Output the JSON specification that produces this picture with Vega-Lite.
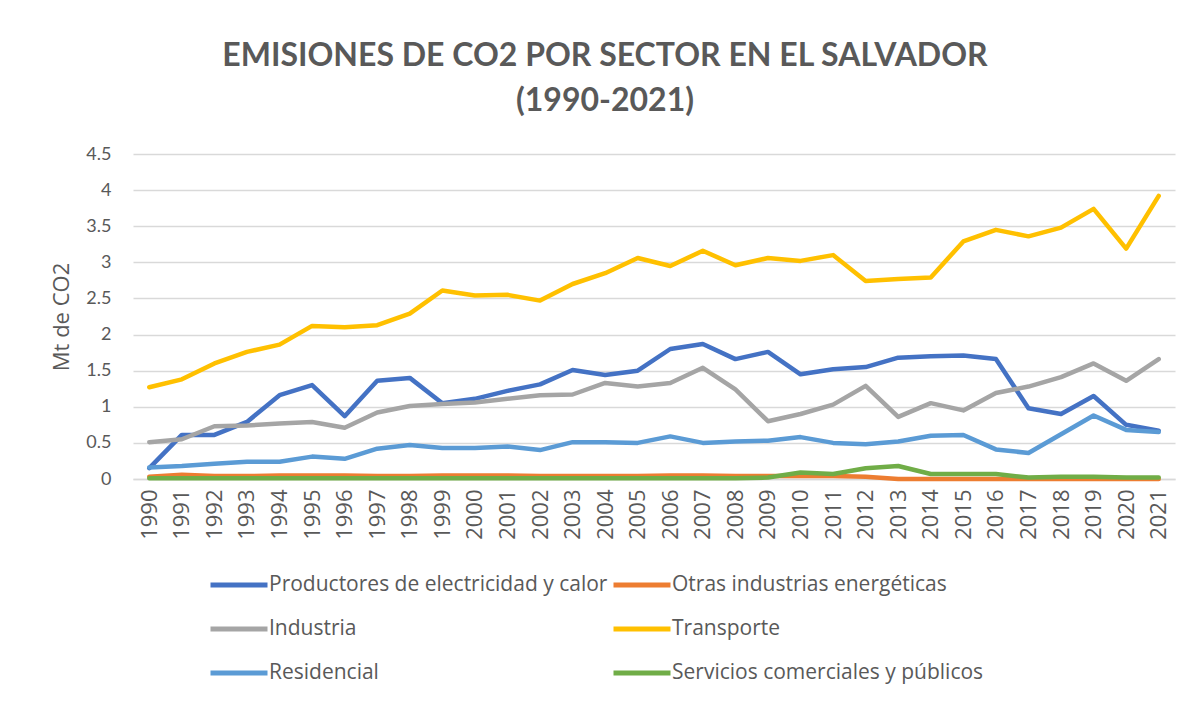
{
  "$schema": "https://vega.github.io/schema/vega-lite/v6.json",
  "width": 1042,
  "height": 325,
  "autosize": {"type": "none"},
  "padding": {"left": 133, "top": 154, "right": 16, "bottom": 223},
  "background": "white",
  "title": {
    "text": ["EMISIONES DE CO2 POR SECTOR EN EL SALVADOR", "(1990-2021)"],
    "font": "Lato",
    "fontSize": 32,
    "fontWeight": "bold",
    "color": "#595959",
    "lineHeight": 45,
    "anchor": "middle",
    "dx": -49,
    "offset": 27
  },
  "datasets": {
    "emis": [
      {"year":"1990","sector":"Productores de electricidad y calor","value":0.15},
      {"year":"1991","sector":"Productores de electricidad y calor","value":0.61},
      {"year":"1992","sector":"Productores de electricidad y calor","value":0.61},
      {"year":"1993","sector":"Productores de electricidad y calor","value":0.79},
      {"year":"1994","sector":"Productores de electricidad y calor","value":1.16},
      {"year":"1995","sector":"Productores de electricidad y calor","value":1.30},
      {"year":"1996","sector":"Productores de electricidad y calor","value":0.87},
      {"year":"1997","sector":"Productores de electricidad y calor","value":1.36},
      {"year":"1998","sector":"Productores de electricidad y calor","value":1.40},
      {"year":"1999","sector":"Productores de electricidad y calor","value":1.05},
      {"year":"2000","sector":"Productores de electricidad y calor","value":1.11},
      {"year":"2001","sector":"Productores de electricidad y calor","value":1.22},
      {"year":"2002","sector":"Productores de electricidad y calor","value":1.31},
      {"year":"2003","sector":"Productores de electricidad y calor","value":1.51},
      {"year":"2004","sector":"Productores de electricidad y calor","value":1.44},
      {"year":"2005","sector":"Productores de electricidad y calor","value":1.50},
      {"year":"2006","sector":"Productores de electricidad y calor","value":1.80},
      {"year":"2007","sector":"Productores de electricidad y calor","value":1.87},
      {"year":"2008","sector":"Productores de electricidad y calor","value":1.66},
      {"year":"2009","sector":"Productores de electricidad y calor","value":1.76},
      {"year":"2010","sector":"Productores de electricidad y calor","value":1.45},
      {"year":"2011","sector":"Productores de electricidad y calor","value":1.52},
      {"year":"2012","sector":"Productores de electricidad y calor","value":1.55},
      {"year":"2013","sector":"Productores de electricidad y calor","value":1.68},
      {"year":"2014","sector":"Productores de electricidad y calor","value":1.70},
      {"year":"2015","sector":"Productores de electricidad y calor","value":1.71},
      {"year":"2016","sector":"Productores de electricidad y calor","value":1.66},
      {"year":"2017","sector":"Productores de electricidad y calor","value":0.98},
      {"year":"2018","sector":"Productores de electricidad y calor","value":0.90},
      {"year":"2019","sector":"Productores de electricidad y calor","value":1.15},
      {"year":"2020","sector":"Productores de electricidad y calor","value":0.75},
      {"year":"2021","sector":"Productores de electricidad y calor","value":0.67},

      {"year":"1990","sector":"Otras industrias energéticas","value":0.03},
      {"year":"1991","sector":"Otras industrias energéticas","value":0.06},
      {"year":"1992","sector":"Otras industrias energéticas","value":0.04},
      {"year":"1993","sector":"Otras industrias energéticas","value":0.04},
      {"year":"1994","sector":"Otras industrias energéticas","value":0.05},
      {"year":"1995","sector":"Otras industrias energéticas","value":0.05},
      {"year":"1996","sector":"Otras industrias energéticas","value":0.05},
      {"year":"1997","sector":"Otras industrias energéticas","value":0.04},
      {"year":"1998","sector":"Otras industrias energéticas","value":0.04},
      {"year":"1999","sector":"Otras industrias energéticas","value":0.05},
      {"year":"2000","sector":"Otras industrias energéticas","value":0.05},
      {"year":"2001","sector":"Otras industrias energéticas","value":0.05},
      {"year":"2002","sector":"Otras industrias energéticas","value":0.04},
      {"year":"2003","sector":"Otras industrias energéticas","value":0.04},
      {"year":"2004","sector":"Otras industrias energéticas","value":0.04},
      {"year":"2005","sector":"Otras industrias energéticas","value":0.04},
      {"year":"2006","sector":"Otras industrias energéticas","value":0.05},
      {"year":"2007","sector":"Otras industrias energéticas","value":0.05},
      {"year":"2008","sector":"Otras industrias energéticas","value":0.04},
      {"year":"2009","sector":"Otras industrias energéticas","value":0.04},
      {"year":"2010","sector":"Otras industrias energéticas","value":0.04},
      {"year":"2011","sector":"Otras industrias energéticas","value":0.04},
      {"year":"2012","sector":"Otras industrias energéticas","value":0.03},
      {"year":"2013","sector":"Otras industrias energéticas","value":0.0},
      {"year":"2014","sector":"Otras industrias energéticas","value":0.0},
      {"year":"2015","sector":"Otras industrias energéticas","value":0.0},
      {"year":"2016","sector":"Otras industrias energéticas","value":0.0},
      {"year":"2017","sector":"Otras industrias energéticas","value":0.0},
      {"year":"2018","sector":"Otras industrias energéticas","value":0.0},
      {"year":"2019","sector":"Otras industrias energéticas","value":0.0},
      {"year":"2020","sector":"Otras industrias energéticas","value":0.0},
      {"year":"2021","sector":"Otras industrias energéticas","value":0.0},

      {"year":"1990","sector":"Industria","value":0.51},
      {"year":"1991","sector":"Industria","value":0.55},
      {"year":"1992","sector":"Industria","value":0.73},
      {"year":"1993","sector":"Industria","value":0.74},
      {"year":"1994","sector":"Industria","value":0.77},
      {"year":"1995","sector":"Industria","value":0.79},
      {"year":"1996","sector":"Industria","value":0.71},
      {"year":"1997","sector":"Industria","value":0.92},
      {"year":"1998","sector":"Industria","value":1.01},
      {"year":"1999","sector":"Industria","value":1.04},
      {"year":"2000","sector":"Industria","value":1.06},
      {"year":"2001","sector":"Industria","value":1.11},
      {"year":"2002","sector":"Industria","value":1.16},
      {"year":"2003","sector":"Industria","value":1.17},
      {"year":"2004","sector":"Industria","value":1.33},
      {"year":"2005","sector":"Industria","value":1.28},
      {"year":"2006","sector":"Industria","value":1.33},
      {"year":"2007","sector":"Industria","value":1.54},
      {"year":"2008","sector":"Industria","value":1.24},
      {"year":"2009","sector":"Industria","value":0.80},
      {"year":"2010","sector":"Industria","value":0.90},
      {"year":"2011","sector":"Industria","value":1.03},
      {"year":"2012","sector":"Industria","value":1.29},
      {"year":"2013","sector":"Industria","value":0.86},
      {"year":"2014","sector":"Industria","value":1.05},
      {"year":"2015","sector":"Industria","value":0.95},
      {"year":"2016","sector":"Industria","value":1.19},
      {"year":"2017","sector":"Industria","value":1.28},
      {"year":"2018","sector":"Industria","value":1.41},
      {"year":"2019","sector":"Industria","value":1.60},
      {"year":"2020","sector":"Industria","value":1.36},
      {"year":"2021","sector":"Industria","value":1.66},

      {"year":"1990","sector":"Transporte","value":1.27},
      {"year":"1991","sector":"Transporte","value":1.38},
      {"year":"1992","sector":"Transporte","value":1.60},
      {"year":"1993","sector":"Transporte","value":1.76},
      {"year":"1994","sector":"Transporte","value":1.86},
      {"year":"1995","sector":"Transporte","value":2.12},
      {"year":"1996","sector":"Transporte","value":2.10},
      {"year":"1997","sector":"Transporte","value":2.13},
      {"year":"1998","sector":"Transporte","value":2.29},
      {"year":"1999","sector":"Transporte","value":2.61},
      {"year":"2000","sector":"Transporte","value":2.54},
      {"year":"2001","sector":"Transporte","value":2.55},
      {"year":"2002","sector":"Transporte","value":2.47},
      {"year":"2003","sector":"Transporte","value":2.70},
      {"year":"2004","sector":"Transporte","value":2.85},
      {"year":"2005","sector":"Transporte","value":3.06},
      {"year":"2006","sector":"Transporte","value":2.95},
      {"year":"2007","sector":"Transporte","value":3.16},
      {"year":"2008","sector":"Transporte","value":2.96},
      {"year":"2009","sector":"Transporte","value":3.06},
      {"year":"2010","sector":"Transporte","value":3.02},
      {"year":"2011","sector":"Transporte","value":3.10},
      {"year":"2012","sector":"Transporte","value":2.74},
      {"year":"2013","sector":"Transporte","value":2.77},
      {"year":"2014","sector":"Transporte","value":2.79},
      {"year":"2015","sector":"Transporte","value":3.29},
      {"year":"2016","sector":"Transporte","value":3.45},
      {"year":"2017","sector":"Transporte","value":3.36},
      {"year":"2018","sector":"Transporte","value":3.48},
      {"year":"2019","sector":"Transporte","value":3.74},
      {"year":"2020","sector":"Transporte","value":3.19},
      {"year":"2021","sector":"Transporte","value":3.92},

      {"year":"1990","sector":"Residencial","value":0.16},
      {"year":"1991","sector":"Residencial","value":0.18},
      {"year":"1992","sector":"Residencial","value":0.21},
      {"year":"1993","sector":"Residencial","value":0.24},
      {"year":"1994","sector":"Residencial","value":0.24},
      {"year":"1995","sector":"Residencial","value":0.31},
      {"year":"1996","sector":"Residencial","value":0.28},
      {"year":"1997","sector":"Residencial","value":0.42},
      {"year":"1998","sector":"Residencial","value":0.47},
      {"year":"1999","sector":"Residencial","value":0.43},
      {"year":"2000","sector":"Residencial","value":0.43},
      {"year":"2001","sector":"Residencial","value":0.45},
      {"year":"2002","sector":"Residencial","value":0.40},
      {"year":"2003","sector":"Residencial","value":0.51},
      {"year":"2004","sector":"Residencial","value":0.51},
      {"year":"2005","sector":"Residencial","value":0.50},
      {"year":"2006","sector":"Residencial","value":0.59},
      {"year":"2007","sector":"Residencial","value":0.50},
      {"year":"2008","sector":"Residencial","value":0.52},
      {"year":"2009","sector":"Residencial","value":0.53},
      {"year":"2010","sector":"Residencial","value":0.58},
      {"year":"2011","sector":"Residencial","value":0.50},
      {"year":"2012","sector":"Residencial","value":0.48},
      {"year":"2013","sector":"Residencial","value":0.52},
      {"year":"2014","sector":"Residencial","value":0.60},
      {"year":"2015","sector":"Residencial","value":0.61},
      {"year":"2016","sector":"Residencial","value":0.41},
      {"year":"2017","sector":"Residencial","value":0.36},
      {"year":"2018","sector":"Residencial","value":0.62},
      {"year":"2019","sector":"Residencial","value":0.88},
      {"year":"2020","sector":"Residencial","value":0.68},
      {"year":"2021","sector":"Residencial","value":0.65},

      {"year":"1990","sector":"Servicios comerciales y públicos","value":0.01},
      {"year":"1991","sector":"Servicios comerciales y públicos","value":0.01},
      {"year":"1992","sector":"Servicios comerciales y públicos","value":0.01},
      {"year":"1993","sector":"Servicios comerciales y públicos","value":0.01},
      {"year":"1994","sector":"Servicios comerciales y públicos","value":0.01},
      {"year":"1995","sector":"Servicios comerciales y públicos","value":0.01},
      {"year":"1996","sector":"Servicios comerciales y públicos","value":0.01},
      {"year":"1997","sector":"Servicios comerciales y públicos","value":0.01},
      {"year":"1998","sector":"Servicios comerciales y públicos","value":0.01},
      {"year":"1999","sector":"Servicios comerciales y públicos","value":0.01},
      {"year":"2000","sector":"Servicios comerciales y públicos","value":0.01},
      {"year":"2001","sector":"Servicios comerciales y públicos","value":0.01},
      {"year":"2002","sector":"Servicios comerciales y públicos","value":0.01},
      {"year":"2003","sector":"Servicios comerciales y públicos","value":0.01},
      {"year":"2004","sector":"Servicios comerciales y públicos","value":0.01},
      {"year":"2005","sector":"Servicios comerciales y públicos","value":0.01},
      {"year":"2006","sector":"Servicios comerciales y públicos","value":0.01},
      {"year":"2007","sector":"Servicios comerciales y públicos","value":0.01},
      {"year":"2008","sector":"Servicios comerciales y públicos","value":0.01},
      {"year":"2009","sector":"Servicios comerciales y públicos","value":0.02},
      {"year":"2010","sector":"Servicios comerciales y públicos","value":0.09},
      {"year":"2011","sector":"Servicios comerciales y públicos","value":0.07},
      {"year":"2012","sector":"Servicios comerciales y públicos","value":0.15},
      {"year":"2013","sector":"Servicios comerciales y públicos","value":0.18},
      {"year":"2014","sector":"Servicios comerciales y públicos","value":0.07},
      {"year":"2015","sector":"Servicios comerciales y públicos","value":0.07},
      {"year":"2016","sector":"Servicios comerciales y públicos","value":0.07},
      {"year":"2017","sector":"Servicios comerciales y públicos","value":0.02},
      {"year":"2018","sector":"Servicios comerciales y públicos","value":0.03},
      {"year":"2019","sector":"Servicios comerciales y públicos","value":0.03},
      {"year":"2020","sector":"Servicios comerciales y públicos","value":0.02},
      {"year":"2021","sector":"Servicios comerciales y públicos","value":0.02}
    ]
  },
  "data": {"name": "emis"},
  "mark": {"type": "line", "strokeWidth": 4.5, "strokeJoin": "round", "strokeCap": "round"},
  "encoding": {
    "x": {
      "field": "year",
      "type": "ordinal",
      "scale": {"type": "point", "padding": 0.5},
      "axis": {
        "title": null,
        "labelAngle": -90,
        "labelFont": "Open Sans",
        "labelFontSize": 22,
        "labelColor": "#595959",
        "labelPadding": 10,
        "ticks": false,
        "domainColor": "#d9d9d9",
        "domainWidth": 1.5,
        "grid": false
      }
    },
    "y": {
      "field": "value",
      "type": "quantitative",
      "scale": {"domain": [0, 4.5], "nice": false},
      "axis": {
        "title": "Mt de CO2",
        "titleFont": "Open Sans",
        "titleFontSize": 22,
        "titleFontWeight": "normal",
        "titleColor": "#595959",
        "titlePadding": 12,
        "values": [0, 0.5, 1, 1.5, 2, 2.5, 3, 3.5, 4, 4.5],
        "format": ".2~f",
        "labelFont": "Lato",
        "labelFontSize": 18,
        "labelColor": "#595959",
        "labelPadding": 22,
        "ticks": false,
        "domain": false,
        "gridColor": "#d9d9d9",
        "gridWidth": 1.5
      }
    },
    "color": {
      "field": "sector",
      "type": "nominal",
      "sort": null,
      "scale": {
        "domain": ["Productores de electricidad y calor", "Otras industrias energéticas", "Industria", "Transporte", "Residencial", "Servicios comerciales y públicos"],
        "range": ["#4472C4", "#ED7D31", "#A5A5A5", "#FFC000", "#5B9BD5", "#70AD47"]
      },
      "legend": {
        "title": null,
        "orient": "none",
        "legendX": 94,
        "legendY": 419,
        "direction": "horizontal",
        "columns": 2,
        "columnPadding": -5,
        "rowPadding": 22,
        "symbolType": "M-3,0H3",
        "symbolSize": 361,
        "symbolStrokeWidth": 5,
        "labelFont": "Open Sans",
        "labelFontSize": 21,
        "labelColor": "#595959",
        "labelOffset": 18,
        "labelLimit": 500
      }
    }
  },
  "config": {
    "view": {"stroke": null}
  }
}
